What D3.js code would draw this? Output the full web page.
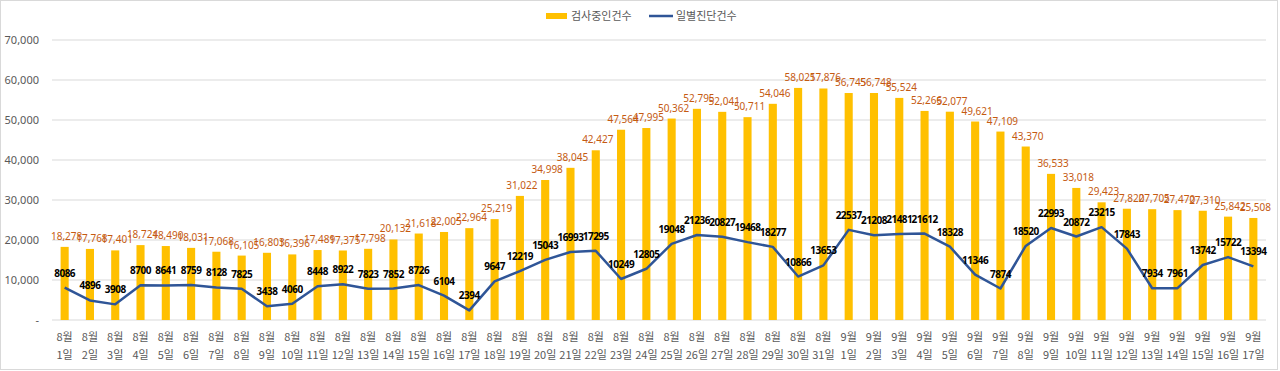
<!DOCTYPE html>
<html><head><meta charset="utf-8">
<script src="https://cdn.jsdelivr.net/npm/d3@7/dist/d3.min.js"></script>
<style>body{margin:0;background:#fff;}svg{display:block;font-family:"Malgun Gothic","Noto Sans CJK KR","Noto Sans",sans-serif;}</style>
</head><body><svg id="c" width="1280" height="371"></svg>
<script>
const months = ["8월","8월","8월","8월","8월","8월","8월","8월","8월","8월","8월","8월","8월","8월","8월","8월","8월","8월","8월","8월","8월","8월","8월","8월","8월","8월","8월","8월","8월","8월","8월","9월","9월","9월","9월","9월","9월","9월","9월","9월","9월","9월","9월","9월","9월","9월","9월","9월"];
const days = ["1일","2일","3일","4일","5일","6일","7일","8일","9일","10일","11일","12일","13일","14일","15일","16일","17일","18일","19일","20일","21일","22일","23일","24일","25일","26일","27일","28일","29일","30일","31일","1일","2일","3일","4일","5일","6일","7일","8일","9일","10일","11일","12일","13일","14일","15일","16일","17일"];
const testing = [18278,17768,17401,18724,18490,18031,17068,16105,16803,16396,17489,17375,17798,20132,21618,22005,22964,25219,31022,34998,38045,42427,47564,47995,50362,52795,52041,50711,54046,58021,57876,56745,56748,55524,52266,52077,49621,47109,43370,36533,33018,29423,27820,27705,27470,27310,25842,25508];
const confirmed = [8086,4896,3908,8700,8641,8759,8128,7825,3438,4060,8448,8922,7823,7852,8726,6104,2394,9647,12219,15043,16993,17295,10249,12805,19048,21236,20827,19468,18277,10866,13653,22537,21208,21481,21612,18328,11346,7874,18520,22993,20872,23215,17843,7934,7961,13742,15722,13394];
const yTicks = [0,10000,20000,30000,40000,50000,60000,70000];
const seriesNames = ["검사중인건수","일별진단건수"];

const svg = d3.select("#c");
svg.append("rect").attr("x",0.5).attr("y",0.5).attr("width",1277).attr("height",369).attr("fill","#fff").attr("stroke","#d9d9d9");

const idx = d3.range(testing.length);
const x = d3.scaleBand().domain(idx).range([52,1266]).paddingInner(0.68).paddingOuter(0.34);
const y = d3.scaleLinear().domain([0,70000]).range([320,40]);

// gridlines
svg.append("g").selectAll("line").data(yTicks).join("line")
  .attr("x1",52).attr("x2",1266).attr("y1",d=>y(d)).attr("y2",d=>y(d))
  .attr("stroke","#d9d9d9").attr("stroke-width",1);

// y axis labels
const yAxis = d3.axisLeft(y).tickValues(yTicks).tickSize(0).tickPadding(0)
  .tickFormat(d=> d===0 ? "-" : d3.format(",")(d));
const ya = svg.append("g").attr("transform","translate(39,0)").call(yAxis);
ya.select(".domain").remove();
ya.selectAll("text").attr("fill","#595959").attr("font-size",11).attr("dy","0.35em").attr("font-family","'Noto Sans',sans-serif");

// bars
svg.append("g").selectAll("rect").data(testing).join("rect")
  .attr("x",(d,i)=>x(i)).attr("width",x.bandwidth())
  .attr("y",d=>y(d)).attr("height",d=>y(0)-y(d)).attr("fill","#FFC000");

// bar labels
svg.append("g").selectAll("text").data(testing).join("text")
  .attr("x",(d,i)=>x(i)+x.bandwidth()/2+2).attr("y",d=>y(d)-7)
  .attr("text-anchor","middle").attr("font-size",10).attr("fill","#C55A11")
  .attr("font-family","'Noto Sans',sans-serif")
  .text(d=>d3.format(",")(d));

// line
const cx = i => x(i)+x.bandwidth()/2;
svg.append("path").datum(confirmed)
  .attr("d",d3.line().x((d,i)=>cx(i)).y(d=>y(d)))
  .attr("fill","none").attr("stroke","#2F5597").attr("stroke-width",2.5).attr("stroke-linejoin","round");

// line labels
svg.append("g").selectAll("text").data(confirmed).join("text")
  .attr("x",(d,i)=>cx(i)).attr("y",d=>y(d)-11)
  .attr("text-anchor","middle").attr("font-size",10).attr("font-weight","bold").attr("fill","#000")
  .attr("letter-spacing",-0.5)
  .attr("font-family","'Noto Sans',sans-serif")
  .text(d=>d);

// x axis labels
const xl = svg.append("g");
xl.selectAll("text.m").data(months).join("text").attr("class","m")
  .attr("x",(d,i)=>cx(i)).attr("y",341).attr("text-anchor","middle")
  .attr("font-size",11).attr("fill","#595959").text(d=>d);
xl.selectAll("text.d").data(days).join("text").attr("class","d")
  .attr("x",(d,i)=>cx(i)).attr("y",359).attr("text-anchor","middle")
  .attr("font-size",11).attr("fill","#595959").text(d=>d);

// legend
const lg = svg.append("g");
lg.append("rect").attr("x",546).attr("y",13).attr("width",21).attr("height",6).attr("fill","#FFC000");
lg.append("text").attr("x",571).attr("y",20).attr("font-size",11).attr("fill","#595959").text(seriesNames[0]);
lg.append("line").attr("x1",649).attr("x2",673).attr("y1",16).attr("y2",16).attr("stroke","#2F5597").attr("stroke-width",2.5);
lg.append("text").attr("x",676).attr("y",20).attr("font-size",11).attr("fill","#595959").text(seriesNames[1]);
</script></body></html>
